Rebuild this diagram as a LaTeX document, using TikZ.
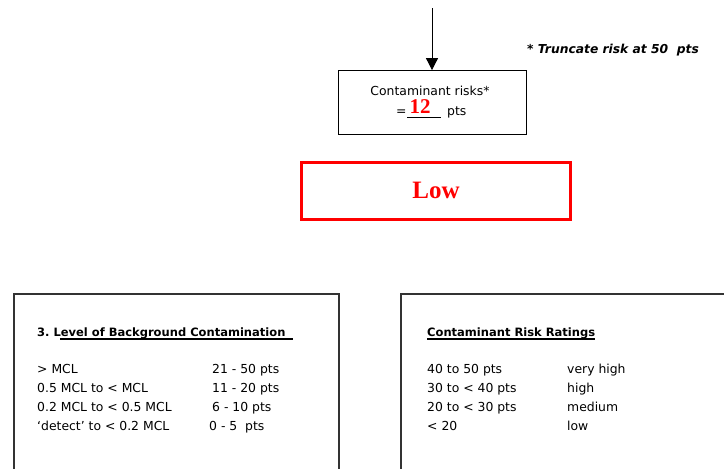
\documentclass[tikz,border=0pt]{standalone}
\usepackage{fontspec}
\setmainfont{DejaVu Sans}
\newfontfamily\serifbold{Liberation Serif}
\usetikzlibrary{arrows.meta}
\tikzset{
  txt/.style={anchor=base west, inner sep=0pt, font=\fontsize{12.4}{14}\selectfont},
  hd/.style={anchor=base west, inner sep=0pt, font=\fontsize{11.5}{14}\selectfont\bfseries},
  ul/.style={line width=1.6pt},
  panel/.style={draw=black!80, line width=1.2pt},
}
\begin{document}
\begin{tikzpicture}[x=1pt,y=-1pt]
\useasboundingbox (0,0) rectangle (724,469);
% top box and arrow
\node[draw, line width=0.8pt, minimum width=188pt, minimum height=64pt, inner sep=0pt] (cbox) at (432.5,102.5) {};
\coordinate (atop) at (432,8);
\draw[line width=0.8pt, -{Triangle[length=12pt,width=12pt]}] (atop) -- (cbox.north -| atop);
\node[anchor=base, inner sep=0pt, font=\fontsize{12.4}{14}\selectfont] (crisk) at (430,95) {Contaminant risks*};
\node[txt] (eq) at (396,115) {=};
\draw[line width=0.6pt] (407,117.5) -- (441,117.5);
\node[anchor=base west, inner sep=0pt, text=red, font=\serifbold\bfseries\fontsize{21}{24}\selectfont] (twelve) at (409.5,113) {12};
\node[txt] (pts) at (447,115) {pts};
\node[anchor=base west, inner sep=0pt, font=\fontsize{12.3}{14}\selectfont\bfseries\itshape] (trunc) at (527,53) {* Truncate risk at 50\ \ pts};
% red result box
\node[draw=red, line width=3pt, minimum width=269pt, minimum height=57pt, inner sep=0pt] (lowbox) at (435.5,190.5) {};
\node[text=red, inner sep=0pt, font=\serifbold\bfseries\fontsize{25}{28}\selectfont] (low) at (436,190) {Low};
% left panel
\draw[panel] (14,475) -- (14,294) -- (339,294) -- (339,475);
\node[hd] (lh) at (37,336) {3.\ Level of Background Contamination};
\draw[ul] (60,339) -- (293,339);
\node[txt] (l1) at (37,373) {> MCL};
\node[txt] (l2) at (37,392) {0.5 MCL to < MCL};
\node[txt] (l3) at (37,411) {0.2 MCL to < 0.5 MCL};
\node[txt] (l4) at (37,430) {‘detect’ to < 0.2 MCL};
\node[txt] (r1) at (212,373) {21 - 50 pts};
\node[txt] (r2) at (212,392) {11 - 20 pts};
\node[txt] (r3) at (212,411) {6 - 10 pts};
\node[txt] (r4) at (209,430) {0 - 5\ \ pts};
% right panel
\draw[panel] (401,475) -- (401,294) -- (730,294);
\node[hd] (rh) at (427,336) {Contaminant Risk Ratings};
\draw[ul] (427,339) -- (595,339);
\node[txt] (a1) at (427,373) {40 to 50 pts};
\node[txt] (a2) at (427,392) {30 to < 40 pts};
\node[txt] (a3) at (427,411) {20 to < 30 pts};
\node[txt] (a4) at (427,430) {< 20};
\node[txt] (b1) at (567,373) {very high};
\node[txt] (b2) at (567,392) {high};
\node[txt] (b3) at (567,411) {medium};
\node[txt] (b4) at (567,430) {low};
\end{tikzpicture}
\end{document}
